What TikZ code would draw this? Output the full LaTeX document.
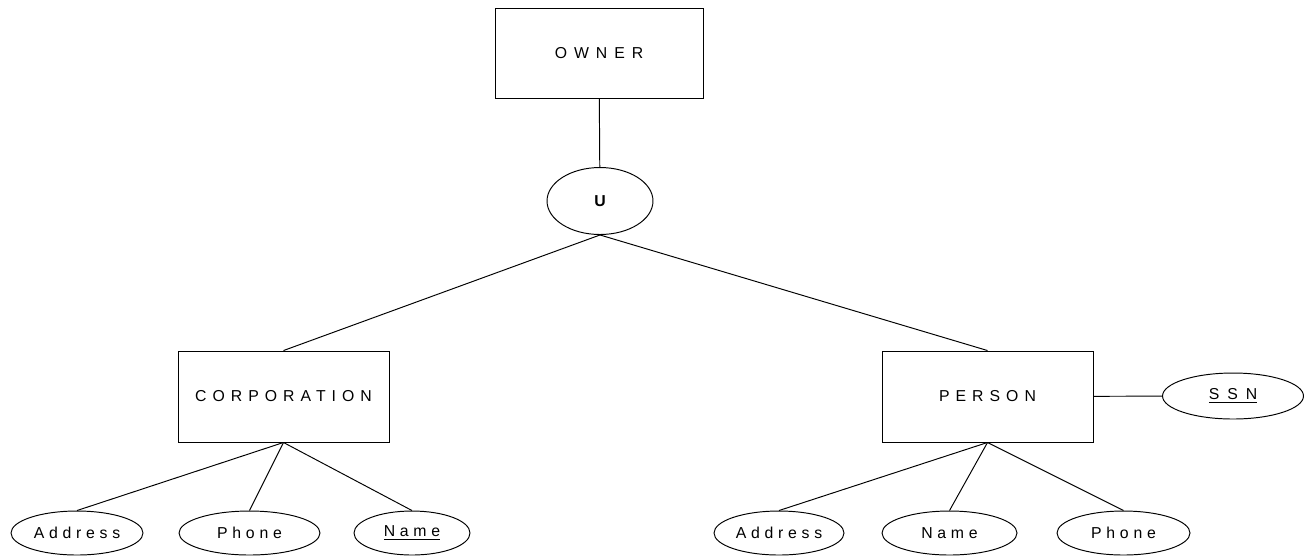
\documentclass[tikz,border=0pt]{standalone}
\usepackage{fontspec}
\setmainfont{Liberation Sans}
\usetikzlibrary{shapes.geometric}

\begin{document}
\begin{tikzpicture}[
  x=0.02cm, y=-0.02cm,
  line width=0.55pt,
  lbl/.style={font=\fontsize{9}{11}\selectfont\addfontfeature{LetterSpace=#1}},
  lbl/.default=38,
  ent/.style={draw, rectangle, lbl, inner sep=0pt, minimum width=4.22cm, minimum height=1.82cm},
  attr/.style={draw, ellipse, lbl=30, inner sep=0pt, minimum height=0.88cm},
  uni/.style={draw, ellipse, inner sep=0pt, minimum width=2.12cm, minimum height=1.34cm,
              font=\fontsize{9}{11}\selectfont\bfseries}
]
\useasboundingbox (0,0) rectangle (1311,556);

\node[ent, lbl=44, minimum width=4.16cm, minimum height=1.8cm] (owner) at (599,53) {OWNER};
\node[uni] (u) at (600,201) {U};

\node[ent] (corp) at (283.5,396.5) {CORPORATION};
\node[ent] (person) at (987.5,396.5) {PERSON};

\node[attr, lbl=50, minimum width=2.82cm, minimum height=0.92cm] (ssn) at (1233,396) {\underline{SSN}};

\node[attr, minimum width=2.64cm] (caddr) at (77,533) {Address};
\node[attr, minimum width=2.82cm] (cphone) at (249.5,533) {Phone};
\node[attr, minimum width=2.32cm] (cname) at (412,533) {\underline{Name}};

\node[attr, minimum width=2.6cm] (paddr) at (779,533) {Address};
\node[attr, minimum width=2.7cm] (pname) at (949.5,533) {Name};
\node[attr, minimum width=2.66cm] (pphone) at (1123.5,533) {Phone};

\draw (owner) -- (u);
\draw (u.south) -- (corp.north);
\draw (u.south) -- (person.north);
\draw (person) -- (ssn);
\draw (corp.south) -- (caddr.north);
\draw (corp.south) -- (cphone.north);
\draw (corp.south) -- (cname.north);
\draw (person.south) -- (paddr.north);
\draw (person.south) -- (pname.north);
\draw (person.south) -- (pphone.north);
\end{tikzpicture}
\end{document}
